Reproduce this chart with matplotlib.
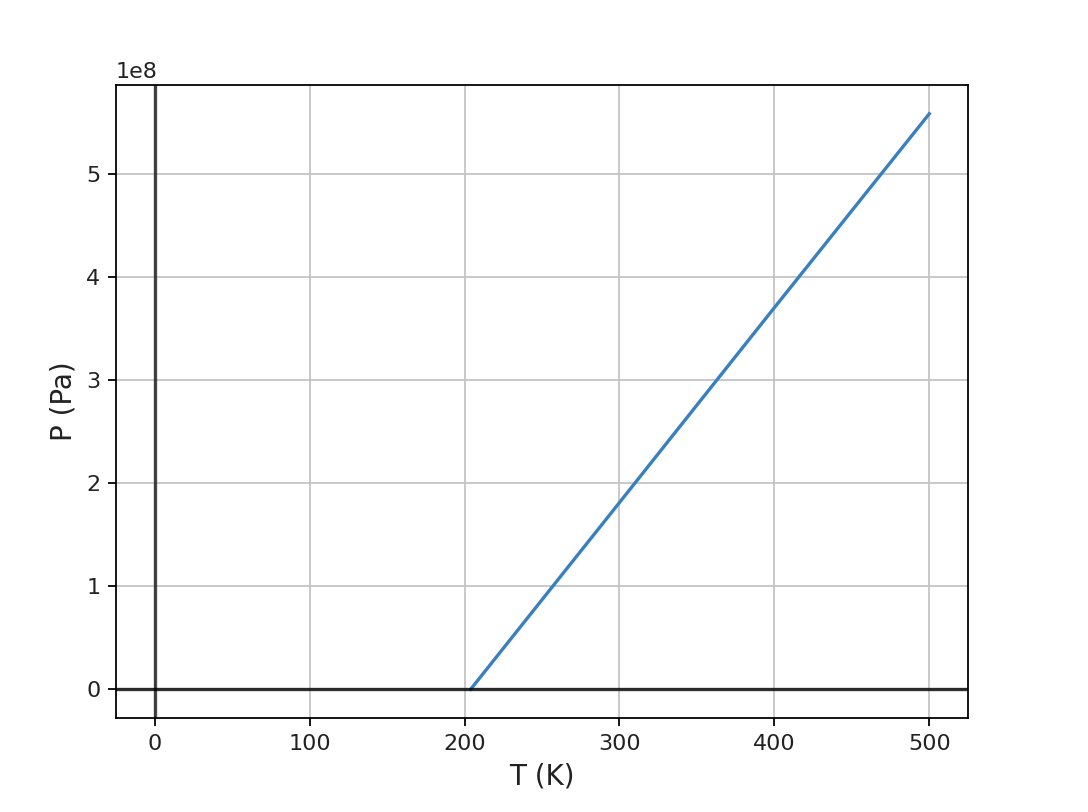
import matplotlib
matplotlib.use('Agg')
import matplotlib.pyplot as plt

# values
T = [204, 300, 400, 500]
P = [0.0, 1.81e8, 3.70e8, 5.58e8]

fig, ax = plt.subplots(figsize=(6.8, 5.075), dpi=160)
fig.subplots_adjust(left=0.1066, right=0.8897, top=0.8953, bottom=0.1158)

ax.plot(T, P, color='#3a7fc0')
ax.axhline(0, color='k', alpha=0.8)
ax.axvline(0, color='k', alpha=0.7)
ax.set_xlabel('T (K)', fontsize=12.5, color='#222222')
ax.set_ylabel('P (Pa)', fontsize=12.5, color='#222222')
ax.tick_params(labelcolor='#222222')
ax.grid(True, color='#c4c4c4')

plt.savefig('out.png', dpi=160)
